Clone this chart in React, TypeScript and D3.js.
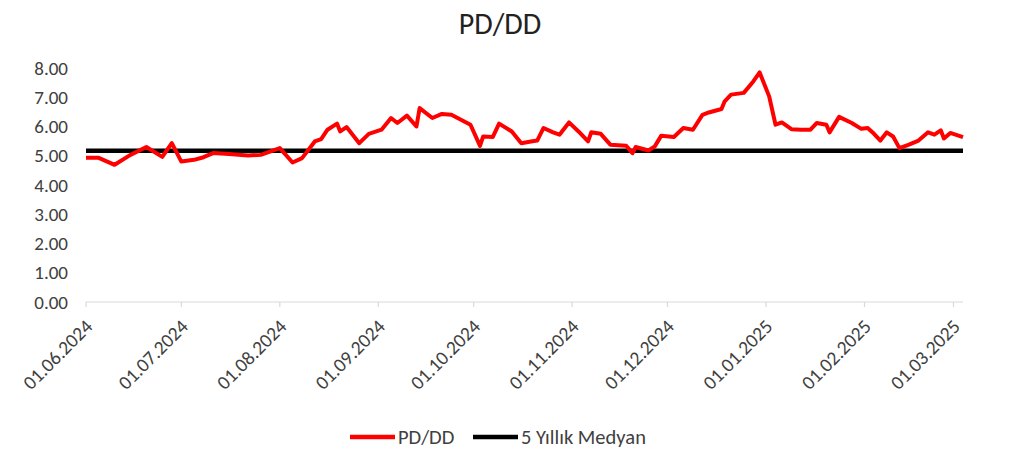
import React, { useEffect, useRef } from 'react';
import * as d3 from 'd3';

// PD/DD series (date, value)
const dates: string[] = [
  '2024-06-01', '2024-06-05', '2024-06-10', '2024-06-15', '2024-06-20', '2024-06-25', '2024-06-28',
  '2024-07-01', '2024-07-05', '2024-07-08', '2024-07-11', '2024-07-16', '2024-07-22', '2024-07-26',
  '2024-08-01', '2024-08-05', '2024-08-08', '2024-08-12', '2024-08-14', '2024-08-16', '2024-08-19',
  '2024-08-20', '2024-08-22', '2024-08-26', '2024-08-29', '2024-09-02', '2024-09-05', '2024-09-07',
  '2024-09-10', '2024-09-13', '2024-09-14', '2024-09-18', '2024-09-21', '2024-09-24', '2024-09-27',
  '2024-09-30', '2024-10-03', '2024-10-04', '2024-10-07', '2024-10-09', '2024-10-13', '2024-10-16',
  '2024-10-19', '2024-10-21', '2024-10-23', '2024-10-26', '2024-10-28', '2024-10-31', '2024-11-03',
  '2024-11-06', '2024-11-07', '2024-11-10', '2024-11-13', '2024-11-18', '2024-11-20', '2024-11-21',
  '2024-11-25', '2024-11-27', '2024-11-29', '2024-12-03', '2024-12-06', '2024-12-09', '2024-12-12',
  '2024-12-14', '2024-12-18', '2024-12-19', '2024-12-21', '2024-12-25', '2024-12-28', '2024-12-30',
  '2025-01-02', '2025-01-04', '2025-01-06', '2025-01-09', '2025-01-12', '2025-01-15', '2025-01-17',
  '2025-01-20', '2025-01-21', '2025-01-24', '2025-01-28', '2025-01-31', '2025-02-02', '2025-02-04',
  '2025-02-06', '2025-02-08', '2025-02-10', '2025-02-12', '2025-02-15', '2025-02-18', '2025-02-21',
  '2025-02-23', '2025-02-25', '2025-02-26', '2025-02-28', '2025-03-04',
];

const pdddValues: number[] = [
  4.93, 4.93, 4.69, 5.03, 5.3, 4.96, 5.43,
  4.8, 4.86, 4.95, 5.09, 5.06, 5.01, 5.03,
  5.26, 4.77, 4.92, 5.49, 5.57, 5.89, 6.1,
  5.83, 5.98, 5.43, 5.75, 5.89, 6.29, 6.12,
  6.37, 6.0, 6.63, 6.29, 6.43, 6.4, 6.23,
  6.06, 5.34, 5.66, 5.64, 6.1, 5.83, 5.43,
  5.49, 5.52, 5.95, 5.8, 5.72, 6.14, 5.83,
  5.49, 5.8, 5.75, 5.38, 5.34, 5.09, 5.3,
  5.18, 5.32, 5.68, 5.64, 5.95, 5.89, 6.4,
  6.48, 6.6, 6.86, 7.09, 7.15, 7.54, 7.85,
  7.03, 6.06, 6.14, 5.91, 5.89, 5.89, 6.12,
  6.06, 5.8, 6.33, 6.12, 5.92, 5.95, 5.75,
  5.52, 5.8, 5.66, 5.26, 5.38, 5.52, 5.8,
  5.72, 5.87, 5.59, 5.78, 5.64,
];

const medianValue = 5.17;

const tickDates: string[] = [
  '2024-06-01', '2024-07-01', '2024-08-01', '2024-09-01', '2024-10-01',
  '2024-11-01', '2024-12-01', '2025-01-01', '2025-02-01', '2025-03-01',
];
const yTicks: number[] = [0, 1, 2, 3, 4, 5, 6, 7, 8];

const title = 'PD/DD';
const legendLabels: string[] = ['PD/DD', '5 Yıllık Medyan'];

const FONT = 'Carlito, Calibri, Lato, "Open Sans", sans-serif';

const App = () => {
  const svgRef = useRef<SVGSVGElement>(null);

  useEffect(() => {
    if (!svgRef.current) return;
    const svg = d3.select(svgRef.current);
    svg.selectAll('*').remove();

    const parse = d3.utcParse('%Y-%m-%d');
    const data = dates.map((d, i) => ({ date: parse(d) as Date, value: pdddValues[i] }));

    const x = d3.scaleUtc()
      .domain([parse('2024-06-01') as Date, parse('2025-03-04') as Date])
      .range([86, 963]);
    const y = d3.scaleLinear().domain([0, 8]).range([302, 68]);

    // title
    svg.append('text')
      .attr('x', 500)
      .attr('y', 34)
      .attr('text-anchor', 'middle')
      .attr('font-family', FONT)
      .attr('font-size', 30)
      .attr('fill', '#222')
      .text(title);

    // y tick labels
    svg.append('g')
      .selectAll('text')
      .data(yTicks)
      .join('text')
      .attr('x', 68)
      .attr('y', d => y(d))
      .attr('dy', '0.35em')
      .attr('text-anchor', 'end')
      .attr('font-family', FONT)
      .attr('font-size', 19)
      .attr('fill', '#404040')
      .text(d => d3.format('.2f')(d));

    // x axis
    const xAxis = svg.append('g');
    xAxis.append('line')
      .attr('x1', x.range()[0])
      .attr('x2', x.range()[1])
      .attr('y1', y(0))
      .attr('y2', y(0))
      .attr('stroke', '#d9d9d9')
      .attr('stroke-width', 1.2);

    const ticks = tickDates.map(d => parse(d) as Date);
    xAxis.selectAll('line.tick')
      .data(ticks)
      .join('line')
      .attr('class', 'tick')
      .attr('x1', d => x(d))
      .attr('x2', d => x(d))
      .attr('y1', y(0))
      .attr('y2', y(0) + 5)
      .attr('stroke', '#d9d9d9')
      .attr('stroke-width', 1.2);

    xAxis.selectAll('text')
      .data(ticks)
      .join('text')
      .attr('transform', d => `translate(${x(d) + 3},${y(0) + 21}) rotate(-45)`)
      .attr('text-anchor', 'end')
      .attr('dy', '0.35em')
      .attr('font-family', FONT)
      .attr('font-size', 19.5)
      .attr('fill', '#404040')
      .text(d => d3.utcFormat('%d.%m.%Y')(d));

    // median line
    svg.append('line')
      .attr('x1', x.range()[0])
      .attr('x2', x.range()[1])
      .attr('y1', y(medianValue))
      .attr('y2', y(medianValue))
      .attr('stroke', '#000')
      .attr('stroke-width', 4.5);

    // PD/DD line
    const line = d3.line<{ date: Date; value: number }>()
      .x(d => x(d.date))
      .y(d => y(d.value));

    svg.append('path')
      .datum(data)
      .attr('fill', 'none')
      .attr('stroke', '#ff0000')
      .attr('stroke-width', 4)
      .attr('stroke-linejoin', 'round')
      .attr('d', line);

    // legend
    const legend = svg.append('g').attr('transform', 'translate(0,437)');
    const items = [
      { label: legendLabels[0], color: '#ff0000', x: 350 },
      { label: legendLabels[1], color: '#000', x: 473 },
    ];
    items.forEach(it => {
      legend.append('line')
        .attr('x1', it.x)
        .attr('x2', it.x + 45)
        .attr('y1', 0)
        .attr('y2', 0)
        .attr('stroke', it.color)
        .attr('stroke-width', 4.5);
      legend.append('text')
        .attr('x', it.x + 48)
        .attr('y', 0)
        .attr('dy', '0.35em')
        .attr('font-family', FONT)
        .attr('font-size', 20.5)
        .attr('fill', '#404040')
        .text(it.label);
    });
  }, []);

  return (
    <svg
      ref={svgRef}
      width={1016}
      height={450}
      style={{ position: 'absolute', left: 0, top: 0, background: '#fff' }}
    />
  );
};

export default App;
